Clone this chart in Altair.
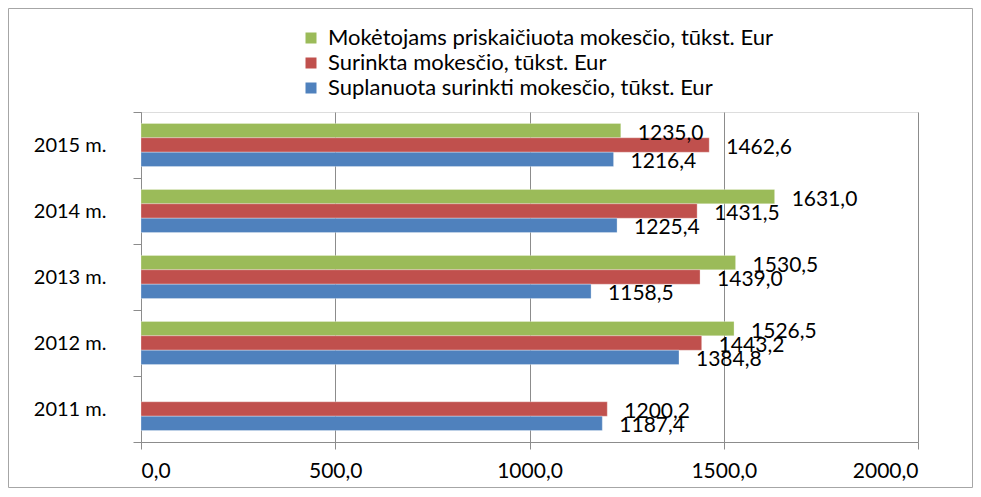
import altair as alt
import pandas as pd

years = ["2015 m.", "2014 m.", "2013 m.", "2012 m.", "2011 m."]
series = [
    "Mokėtojams priskaičiuota mokesčio, tūkst. Eur",
    "Surinkta mokesčio, tūkst. Eur",
    "Suplanuota surinkti mokesčio, tūkst. Eur",
]
colors = ["#9BBB59", "#C0504D", "#4F81BD"]
green = [1235.0, 1631.0, 1530.5, 1526.5, None]
red = [1462.6, 1431.5, 1439.0, 1443.2, 1200.2]
blue = [1216.4, 1225.4, 1158.5, 1384.8, 1187.4]
x_ticks = [0, 500, 1000, 1500, 2000]

rows = []
for i, yr in enumerate(years):
    for s, vals in zip(series, [green, red, blue]):
        v = vals[i]
        if v is None:
            continue
        rows.append({"year": yr, "series": s, "value": v,
                     "label": f"{v:.1f}".replace(".", ",")})
df = pd.DataFrame(rows)

W, H = 777, 330
FONT = "Lato"
GRAY = "#8c8c8c"

y_enc = alt.Y(
    "year:N", sort=years,
    scale=alt.Scale(paddingInner=0, paddingOuter=0),
    axis=alt.Axis(title=None, tickBand="extent", tickSize=8, tickColor=GRAY,
                  domainColor=GRAY, labelFontSize=20, labelFont=FONT,
                  labelColor="#000000", labelPadding=27, grid=False),
)
yoff_enc = alt.YOffset("series:N", sort=series,
                       scale=alt.Scale(paddingInner=0, paddingOuter=0.79))
x_enc = alt.X(
    "value:Q",
    scale=alt.Scale(domain=[0, 2000], nice=False),
    axis=alt.Axis(title=None, values=x_ticks,
                  labelExpr="replace(format(datum.value, '.1f'), '.', ',')",
                  grid=True, gridColor=GRAY, domainColor=GRAY, tickColor=GRAY,
                  tickSize=7, labelFontSize=21, labelFont=FONT,
                  labelColor="#000000", labelPadding=11),
)

base = alt.Chart(df).encode(y=y_enc, yOffset=yoff_enc, x=x_enc)

bars = base.mark_bar(strokeWidth=0.6, stroke="#ffffff", strokeOpacity=0.5).encode(
    color=alt.Color(
        "series:N",
        scale=alt.Scale(domain=series, range=colors),
        legend=alt.Legend(title=None, orient="none", legendX=159, legendY=-85,
                          symbolType="square", symbolSize=121, symbolStrokeWidth=0,
                          labelFontSize=22, labelFont=FONT, labelColor="#000000",
                          labelLimit=700, rowPadding=3, labelOffset=6),
    )
)

labels = base.mark_text(align="left", baseline="middle", dx=17, dy=3,
                        fontSize=21, font=FONT, color="#000000").encode(text="label:N")

border = alt.Chart(pd.DataFrame({"a": [0]})).mark_rect(
    fill="transparent", stroke="#a6a6a6", strokeWidth=1
).encode(
    x=alt.value(-132.5), x2=alt.value(W + 54.5),
    y=alt.value(-103.5), y2=alt.value(H + 45.5),
)

chart = alt.layer(border, bars, labels).properties(
    width=W, height=H,
    autosize=alt.AutoSizeParams(type="none"),
    padding={"left": 133, "top": 104, "right": 55, "bottom": 46},
).configure_view(stroke=None).configure(font=FONT)

chart.save("out.html", embed_options={"renderer": "svg", "actions": False})
